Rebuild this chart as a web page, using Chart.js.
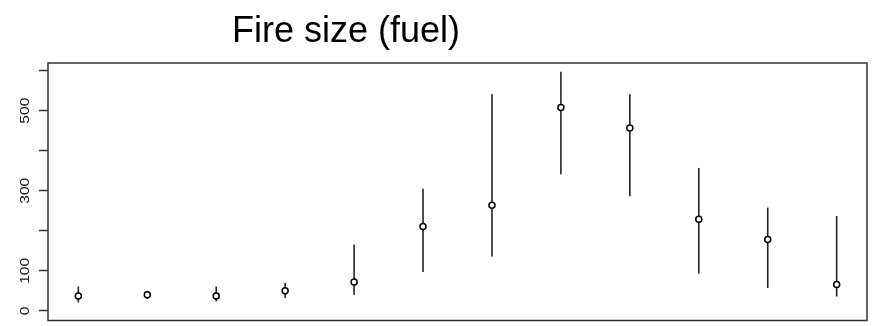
<!DOCTYPE html>
<html>
<head>
<meta charset="utf-8">
<script src="https://cdn.jsdelivr.net/npm/chart.js@4"></script>
<style>
  body { margin: 0; background: #fff; }
  canvas { display: block; }
</style>
</head>
<body>
<canvas id="fireChart" width="877" height="326"></canvas>
<script>
// months 1..12, mean fire size and the interval around it
const months = [1, 2, 3, 4, 5, 6, 7, 8, 9, 10, 11, 12]
const means = [37, 40, 37, 50, 72, 211, 264, 508, 457, 229, 178, 66]
const lows = [21, 30, 24, 32, 40, 97, 136, 341, 286, 93, 57, 36]
const highs = [61, 50, 61, 70, 165, 305, 541, 597, 541, 357, 258, 237]
const yTicks = [0, 100, 200, 300, 400, 500, 600]
const yLabels = ['0', '100', '', '300', '', '500', '']
const title = 'Fire size (fuel)'

const errorBars = {
    id: 'errorBars',
    beforeDatasetsDraw(chart) {
        const ctx = chart.ctx
        const x = chart.scales.x
        const y = chart.scales.y
        ctx.save()
        ctx.strokeStyle = '#222'
        ctx.lineWidth = 1.6
        for (let i = 0; i < months.length; i++) {
            let px = x.getPixelForValue(months[i])
            ctx.beginPath()
            ctx.moveTo(px, y.getPixelForValue(lows[i]))
            ctx.lineTo(px, y.getPixelForValue(highs[i]))
            ctx.stroke()
        }
        ctx.restore()
    }
}

const frame = {
    id: 'frame',
    afterDraw(chart) {
        const ctx = chart.ctx
        const a = chart.chartArea
        const y = chart.scales.y
        ctx.save()
        // box
        ctx.strokeStyle = '#333'
        ctx.lineWidth = 1.5
        ctx.strokeRect(a.left, a.top, a.right - a.left, a.bottom - a.top)
        // rotated tick labels, a bit stretched along the text like the source
        ctx.fillStyle = '#111'
        ctx.font = '13px "Liberation Sans", Arial, sans-serif'
        ctx.textAlign = 'center'
        ctx.textBaseline = 'alphabetic'
        for (let i = 0; i < yTicks.length; i++) {
            if (!yLabels[i]) continue
            ctx.save()
            ctx.translate(28.5, y.getPixelForValue(yTicks[i]))
            ctx.scale(1, 1.2)
            ctx.rotate(-Math.PI / 2)
            ctx.fillText(yLabels[i], 0, 0)
            ctx.restore()
        }
        // title
        ctx.fillStyle = '#000'
        ctx.font = '36px "Liberation Sans", Arial, sans-serif'
        ctx.fillText(title, 346, 42)
        ctx.restore()
    }
}

const ctx = document.getElementById('fireChart')
const chart = new Chart(ctx, {
    type: 'scatter',
    data: {
        datasets: [{
            data: months.map((m, i) => ({ x: m, y: means[i] })),
            pointRadius: 3,
            pointBorderWidth: 1.5,
            pointBorderColor: '#000',
            pointBackgroundColor: '#fff',
            showLine: false
        }]
    },
    options: {
        responsive: false,
        animation: false,
        layout: { padding: { top: 63, right: 10, bottom: 4, left: 0 } },
        plugins: {
            legend: { display: false },
            tooltip: { enabled: false }
        },
        scales: {
            x: {
                type: 'linear',
                min: 0.56,
                max: 12.44,
                display: false
            },
            y: {
                min: -24,
                max: 619,
                afterFit: (scale) => { scale.width = 48 },
                afterBuildTicks: (scale) => { scale.ticks = yTicks.map(v => ({ value: v })) },
                border: { display: false },
                grid: {
                    drawOnChartArea: false,
                    drawTicks: true,
                    tickLength: 9,
                    tickWidth: 1.5,
                    tickColor: '#333'
                },
                ticks: { display: false }
            }
        }
    },
    plugins: [errorBars, frame]
})
</script>
</body>
</html>
